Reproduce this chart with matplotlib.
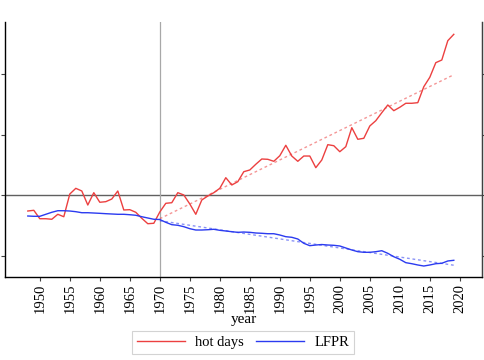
import numpy as np
import matplotlib
matplotlib.use("Agg")
import matplotlib.pyplot as plt

plt.rcParams['font.family'] = ['Liberation Serif', 'DejaVu Serif']

years = list(range(1948, 2020))

# hot days (deviation)
hot_days = [-2.59, -2.47, -3.86, -3.86, -3.95, -3.13, -3.53, 0.21, 1.15, 0.71,
            -1.60, 0.43, -1.15, -1.05, -0.61, 0.71, -2.42, -2.37, -2.80, -3.79,
            -4.68, -4.61, -2.75, -1.32, -1.22, 0.43, 0.05, -1.43, -3.13, -0.77,
            -0.12, 0.43, 1.15, 2.90, 1.70, 2.24, 3.89, 4.17, 5.11, 5.98,
            5.93, 5.60, 6.52, 8.24, 6.47, 5.60, 6.47, 6.47, 4.55, 5.82,
            8.34, 8.17, 7.18, 8.01, 11.14, 9.23, 9.39, 11.42, 12.29, 13.61,
            14.88, 13.94, 14.50, 15.16, 15.16, 15.26, 17.89, 19.44, 21.85, 22.29,
            25.47, 26.52]

# LFPR (deviation)
lfpr = [-3.41, -3.46, -3.46, -3.13, -2.80, -2.54, -2.54, -2.59, -2.70, -2.87,
        -2.87, -2.92, -2.97, -3.03, -3.08, -3.13, -3.13, -3.20, -3.29, -3.53,
        -3.74, -3.95, -3.99, -4.45, -4.84, -4.94, -5.17, -5.50, -5.72, -5.72,
        -5.67, -5.60, -5.77, -5.88, -6.00, -6.10, -6.05, -6.10, -6.21, -6.26,
        -6.33, -6.33, -6.54, -6.82, -6.92, -7.20, -7.91, -8.30, -8.19, -8.11,
        -8.19, -8.24, -8.35, -8.68, -9.01, -9.29, -9.39, -9.39, -9.29, -9.13,
        -9.56, -10.12, -10.54, -11.10, -11.27, -11.48, -11.65, -11.48, -11.27, -11.20,
        -10.82, -10.71]

break_year = 1970
yticks = [-10, 0, 10, 20]
xticks = list(range(1950, 2021, 5))

red = '#ec4040'
blue = '#2b3bf0'

yrs = np.array(years)
post = yrs >= break_year

fig = plt.figure(figsize=(4.85, 3.6), dpi=100)
ax = fig.add_axes([5 / 485, 1 - 277 / 360, 477 / 485, 255 / 360])

ax.axhline(0, color='#606060', lw=1.0, zorder=1)
ax.axvline(break_year, color='#a8a8a8', lw=0.9, zorder=1)

l1, = ax.plot(years, hot_days, color=red, lw=1.0, zorder=3)
l2, = ax.plot(years, lfpr, color=blue, lw=1.0, zorder=3)

# linear fits after 1970
for series, c in [(hot_days, red), (lfpr, blue)]:
    b = np.polyfit(yrs[post], np.array(series)[post], 1)
    ax.plot(yrs[post], np.polyval(b, yrs[post]), color=c, lw=1.0,
            ls=(0, (2, 2)), alpha=0.55, zorder=2)

ax.set_xlim(1944.2, 2023.7)
ax.set_ylim(-13.46, 28.55)
ax.set_xticks(xticks)
ax.set_xticklabels([str(x) for x in xticks], rotation=90, fontsize=10.5)
ax.set_yticks(yticks)
ax.set_yticklabels([str(y) for y in yticks], fontsize=10.5)
ax.tick_params(axis='both', length=3, width=0.8, color='#404040', pad=2)
ax.set_xlabel('year', fontsize=11, labelpad=0)

for s in ['left', 'bottom', 'right']:
    ax.spines[s].set_color('#404040')
    ax.spines[s].set_linewidth(1.0)
ax.spines['top'].set_visible(False)

ax2 = ax.twinx()
ax2.set_ylim(ax.get_ylim())
ax2.set_yticks(yticks)
ax2.tick_params(axis='y', length=3, width=0.8, color='#404040', labelright=False)
ax2.spines['top'].set_visible(False)
ax2.spines['right'].set_color('#404040')

leg = fig.legend([l1, l2], ['hot days', 'LFPR'], loc='center',
                 bbox_to_anchor=(243 / 485, 1 - 342.5 / 360), ncol=2,
                 fontsize=10.5, frameon=True, fancybox=False, handlelength=3.3,
                 columnspacing=0.8, borderpad=0.35, handletextpad=0.7)
leg.get_frame().set_edgecolor('#c8c8c8')
leg.get_frame().set_linewidth(0.8)

fig.savefig('out.png', dpi=100)
